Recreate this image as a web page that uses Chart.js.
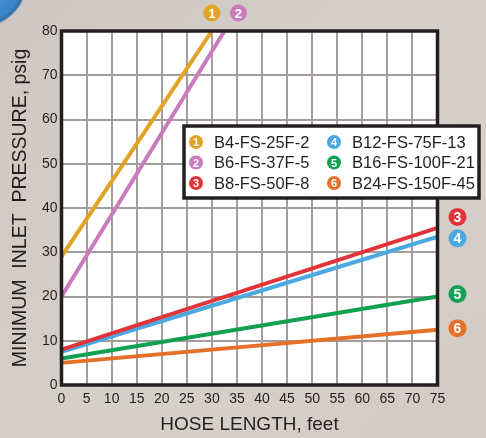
<!DOCTYPE html>
<html>
<head>
<meta charset="utf-8">
<script src="https://cdn.jsdelivr.net/npm/chart.js@4.4.1/dist/chart.umd.min.js"></script>
<style>
  html, body { margin: 0; padding: 0; overflow: hidden; }
  body {
    width: 486px; height: 438px;
    background:
      radial-gradient(circle at -20px -20px, #4f9ad6 0, #3b86c8 42px, #2f6fa8 46px, rgba(59,134,200,0) 48px),
      linear-gradient(135deg, #cfc8c2 0%, #d6d0ca 60%, #d2cbc5 100%);
  }
  canvas { display: block; }
</style>
</head>
<body>
<canvas id="chart" width="486" height="438"></canvas>
<script>
// hose models (legend order) and their straight-line curves
const modelNames = ['B4-FS-25F-2', 'B6-FS-37F-5', 'B8-FS-50F-8', 'B12-FS-75F-13', 'B16-FS-100F-21', 'B24-FS-150F-45'];
const modelColors = ['#e2a325', '#c97cbd', '#e3333a', '#4ba9e0', '#12a052', '#e4702a'];
const startFeet = [0, 0, 0, 0, 0, 0];
const startPsig = [29, 20, 8, 7.5, 6, 5];
const endFeet = [30, 32.5, 75, 75, 75, 75];
const endPsig = [80, 80, 35.5, 33.5, 20, 12.5];

const xTickStep = 5;   // 0..75 ft
const yTickStep = 10;  // 0..80 psig

const FONT = '"Liberation Sans", Arial, sans-serif';
Chart.defaults.font.family = FONT;

// white plot field + black frame
const framePlugin = {
    id: 'frame',
    beforeDraw(chart) {
        const { ctx, chartArea: a } = chart;
        ctx.save();
        ctx.fillStyle = '#ffffff';
        ctx.fillRect(a.left, a.top, a.right - a.left, a.bottom - a.top);
        ctx.restore();
    },
    afterDatasetsDraw(chart) {
        const { ctx, chartArea: a } = chart;
        ctx.save();
        ctx.strokeStyle = '#231f20';
        ctx.lineWidth = 3.5;
        ctx.strokeRect(a.left, a.top, a.right - a.left, a.bottom - a.top);
        ctx.restore();
    }
};

function drawBadge(ctx, x, y, r, color, text, fontPx) {
    ctx.beginPath();
    ctx.arc(x, y, r, 0, Math.PI * 2);
    ctx.fillStyle = color;
    ctx.fill();
    ctx.fillStyle = '#ffffff';
    ctx.font = 'bold ' + fontPx + 'px ' + FONT;
    ctx.textAlign = 'center';
    ctx.textBaseline = 'middle';
    ctx.fillText(text, x, y + 1);
}

// numbered circles at the end of each curve
const endBadgePlugin = {
    id: 'endBadges',
    afterDraw(chart, args, opts) {
        const { ctx, chartArea: a, scales } = chart;
        ctx.save();
        chart.data.datasets.forEach((ds, i) => {
            const last = ds.data[ds.data.length - 1];
            const px = scales.x.getPixelForValue(last.x);
            const py = scales.y.getPixelForValue(last.y);
            const n = opts.nudge[i] || 0;
            if (last.x < scales.x.max) {
                // curve leaves through the top
                drawBadge(ctx, px + n, a.top - 18, 8.5, ds.borderColor, String(i + 1), 13);
            } else {
                drawBadge(ctx, a.right + 20, py + n, 9, ds.borderColor, String(i + 1), 14);
            }
        });
        ctx.restore();
    }
};

// boxed legend inside the plot
const boxLegendPlugin = {
    id: 'boxLegend',
    afterDraw(chart, args, opts) {
        const { ctx, chartArea: a } = chart;
        const left = a.left + opts.offsetX, top = a.top + opts.offsetY;
        const w = 295, h = 72;
        ctx.save();
        ctx.fillStyle = '#ffffff';
        ctx.fillRect(left, top, w, h);
        ctx.strokeStyle = '#231f20';
        ctx.lineWidth = 3.5;
        ctx.strokeRect(left, top, w, h);
        chart.data.datasets.forEach((ds, i) => {
            const col = Math.floor(i / 3), row = i % 3;
            const cx = left + 12 + col * 138;
            const cy = top + 16 + row * 20.5;
            drawBadge(ctx, cx, cy, 7, ds.borderColor, String(i + 1), 11);
            ctx.fillStyle = '#231f20';
            ctx.font = '16.5px ' + FONT;
            ctx.textAlign = 'left';
            ctx.textBaseline = 'middle';
            ctx.fillText(ds.label, cx + 18, cy + 1);
        });
        ctx.restore();
    }
};

const datasets = modelNames.map((name, i) => ({
    label: name,
    data: [
        { x: startFeet[i], y: startPsig[i] },
        { x: endFeet[i], y: endPsig[i] }
    ],
    borderColor: modelColors[i],
    backgroundColor: modelColors[i],
    borderWidth: 4,
    pointRadius: 0,
    tension: 0,
    fill: false
}));

new Chart(document.getElementById('chart'), {
    type: 'line',
    data: { datasets: datasets },
    plugins: [framePlugin, endBadgePlugin, boxLegendPlugin],
    options: {
        responsive: false,
        devicePixelRatio: 1,
        animation: false,
        events: [],
        layout: { padding: { left: 0, right: 48.5, top: 31, bottom: 0 } },
        scales: {
            x: {
                type: 'linear',
                min: 0,
                max: 75,
                afterFit(scale) { scale.height = 53; },
                ticks: { stepSize: xTickStep, padding: 6, color: '#231f20', font: { size: 14 }, maxRotation: 0, autoSkip: false },
                grid: { color: '#a39e9c', lineWidth: 2, drawTicks: false },
                border: { display: false },
                title: { display: true, text: 'HOSE LENGTH, feet', color: '#231f20', font: { size: 19 }, padding: { top: 0, bottom: 2 } }
            },
            y: {
                min: 0,
                max: 80,
                afterFit(scale) { scale.width = 61.5; },
                ticks: { stepSize: yTickStep, padding: 4, color: '#231f20', font: { size: 14 } },
                grid: { color: '#a39e9c', lineWidth: 2, drawTicks: false },
                border: { display: false },
                title: { display: true, text: 'MINIMUM  INLET  PRESSURE, psig', color: '#231f20', font: { size: 19.5 }, padding: { top: 9, bottom: 0 } }
            }
        },
        plugins: {
            legend: { display: false },
            tooltip: { enabled: false },
            endBadges: { nudge: [0, 14, -11, 1.5, -2.5, -1.5] },
            boxLegend: { offsetX: 122.5, offsetY: 95 }
        }
    }
});
</script>
</body>
</html>
